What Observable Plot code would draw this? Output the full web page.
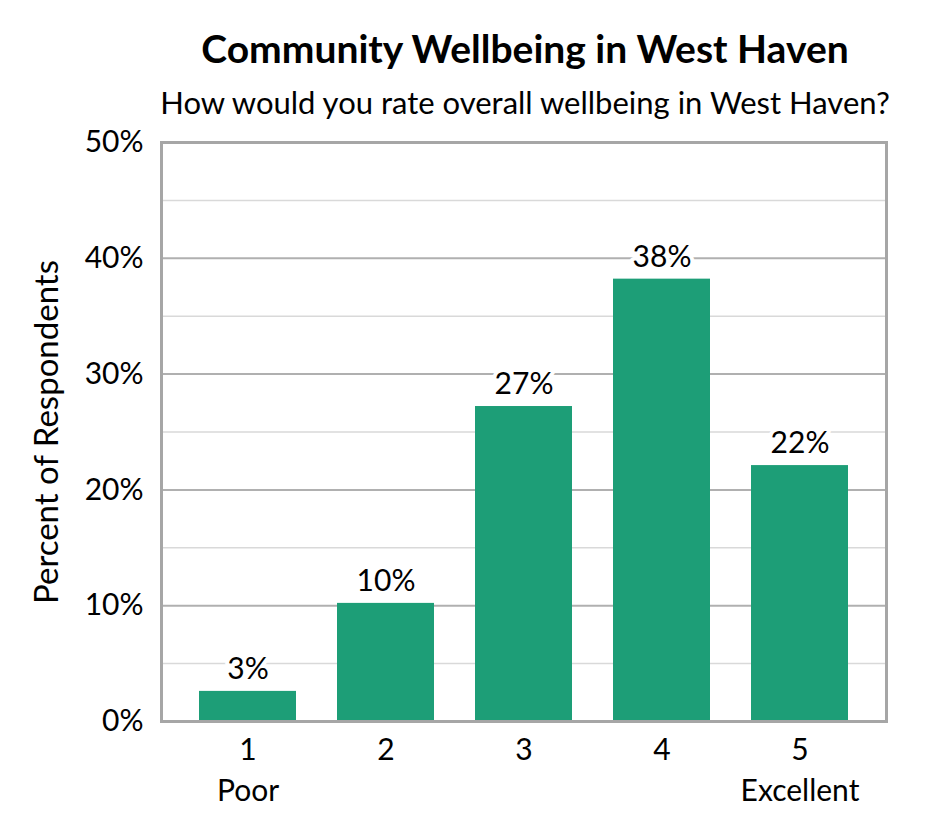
<!DOCTYPE html>
<html>
<head>
<meta charset="utf-8">
<script src="https://cdn.jsdelivr.net/npm/d3@7"></script>
<script src="https://cdn.jsdelivr.net/npm/@observablehq/plot@0.6"></script>
<style>
  html, body { margin: 0; padding: 0; background: #fff; }
  #wrap { width: 945px; font-family: Lato, "Noto Sans", sans-serif; color: #000; }
  #head { position: relative; width: 945px; height: 125px; }
  #title { position: absolute; left: 130px; width: 790px; top: 25px; text-align: center; font-size: 39px; font-weight: bold; line-height: 46px; }
  #subtitle { position: absolute; left: 100px; width: 850px; top: 84px; text-align: center; font-size: 31px; line-height: 36px; }
</style>
</head>
<body>
<div id="wrap">
  <div id="head">
    <div id="title">Community Wellbeing in West Haven</div>
    <div id="subtitle">How would you rate overall wellbeing in West Haven?</div>
  </div>
  <div id="chart"></div>
</div>
<script>
const ratings = ["1", "2", "3", "4", "5"];
const ratingNames = ["Poor", "", "", "", "Excellent"];
const percents = [2.6, 10.2, 27.2, 38.2, 22.1];
const valueLabels = ["3%", "10%", "27%", "38%", "22%"];
const majorTicks = [0, 10, 20, 30, 40, 50];
const minorTicks = [5, 15, 25, 35, 45];
const yLabel = "Percent of Respondents";

const data = ratings.map((r, i) => ({rating: r, name: ratingNames[i], pct: percents[i], label: valueLabels[i]}));

const chart = Plot.plot({
  width: 945,
  height: 715,
  marginTop: 17,
  marginBottom: 119,
  marginLeft: 161,
  marginRight: 59,
  style: {fontFamily: 'Lato, "Noto Sans", sans-serif', fontSize: "30px", color: "#000", background: "#fff", overflow: "visible"},
  x: {domain: ratings, paddingInner: 0.3, paddingOuter: 0.26},
  y: {domain: [0, 50]},
  marks: [
    Plot.ruleY(minorTicks, {stroke: "#d9d9d9", strokeWidth: 1.5}),
    Plot.ruleY(majorTicks.filter(d => d > 0 && d < 50), {stroke: "#b0b0b0", strokeWidth: 2}),
    Plot.barY(data, {x: "rating", y: "pct", fill: "#1d9e77"}),
    Plot.text(data, {x: "rating", y: "pct", text: "label", dy: -22, fill: "#000", stroke: "#fff", strokeWidth: 8, paintOrder: "stroke", fontSize: 30}),
    Plot.frame({stroke: "#a6a6a6", strokeWidth: 3}),
    Plot.axisY({ticks: majorTicks, tickFormat: d => d + "%", tickSize: 0, tickPadding: 18, fontSize: 30, label: null}),
    Plot.axisX({tickSize: 0, tickPadding: 9, fontSize: 30, lineHeight: 1.37,
      tickFormat: (d) => ratingNames[ratings.indexOf(d)] ? d + "\n" + ratingNames[ratings.indexOf(d)] : d, label: null}),
    Plot.text([yLabel], {frameAnchor: "left", textAnchor: "middle", lineAnchor: "middle", dx: -114, rotate: -90, fontSize: 33, fill: "#000"})
  ]
});
document.getElementById("chart").appendChild(chart);
</script>
</body>
</html>
